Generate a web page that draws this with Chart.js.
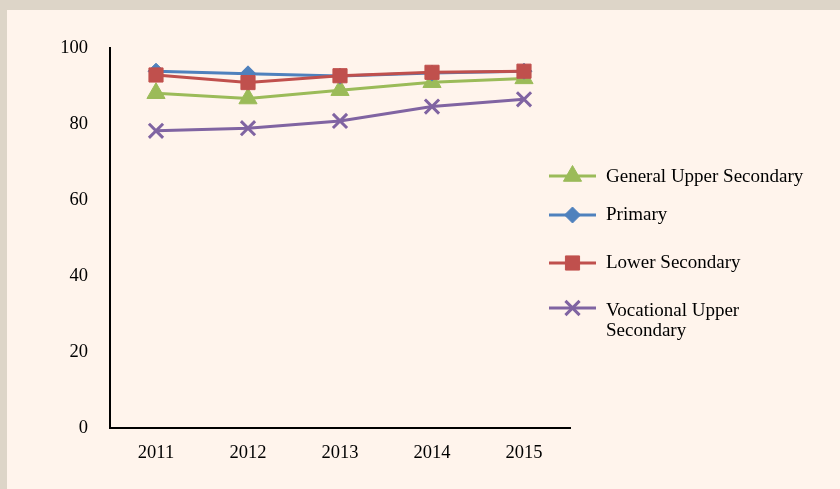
<!DOCTYPE html>
<html>
<head>
<meta charset="utf-8">
<script src="https://cdn.jsdelivr.net/npm/chart.js@4/dist/chart.umd.min.js"></script>
<style>
  html, body { margin: 0; padding: 0; }
  body { width: 840px; height: 489px; background: #ddd5c8; position: relative; overflow: hidden; }
  #chart { position: absolute; left: 7px; top: 10px; background: #fff4ec; }
</style>
</head>
<body>
<canvas id="chart" width="833" height="479"></canvas>
<script>
'use strict';

// data
let years = ['2011', '2012', '2013', '2014', '2015'];
let generalUpper = [88.1, 86.7, 88.9, 91.0, 92.0];
let primary = [93.9, 93.2, 92.6, 93.4, 93.9];
let lowerSecondary = [92.9, 90.9, 92.7, 93.6, 93.9];
let vocationalUpper = [78.2, 78.9, 80.8, 84.6, 86.5];
let yTicks = [0, 20, 40, 60, 80, 100];

let canvasElem = document.getElementById('chart');
let serif = "'Liberation Serif', 'Times New Roman', serif";

// legend drawn by hand so the last label can wrap like the original
let legendPlugin = {
  id: 'sideLegend',
  afterDraw(chart) {
    let ctx = chart.ctx;
    let items = [
      { ds: 0, y: 166, lines: [['General Upper Secondary', 167]] },
      { ds: 1, y: 205, lines: [['Primary', 205]] },
      { ds: 2, y: 253, lines: [['Lower Secondary', 253]] },
      { ds: 3, y: 298, lines: [['Vocational Upper', 301], ['Secondary', 321]] }
    ];
    ctx.save();
    items.forEach(function (it) {
      let d = chart.data.datasets[it.ds];
      ctx.strokeStyle = d.borderColor;
      ctx.lineWidth = 3;
      ctx.beginPath();
      ctx.moveTo(542, it.y);
      ctx.lineTo(589, it.y);
      ctx.stroke();
      ctx.fillStyle = d.pointBackgroundColor;
      ctx.strokeStyle = d.pointBorderColor;
      ctx.lineWidth = d.pointBorderWidth;
      Chart.helpers.drawPoint(ctx, { pointStyle: d.pointStyle, radius: d.pointRadius, borderWidth: d.pointBorderWidth, rotation: 0 }, 565.5, it.y);
      ctx.fillStyle = '#000';
      ctx.font = '19px ' + serif;
      ctx.textBaseline = 'middle';
      ctx.textAlign = 'left';
      it.lines.forEach(function (l) {
        ctx.fillText(l[0], 599, l[1]);
      });
    });
    ctx.restore();
  }
};

function series(label, data, color, style, radius, order) {
  return {
    label: label,
    data: data,
    borderColor: color,
    backgroundColor: color,
    borderWidth: 3,
    pointStyle: style,
    pointRadius: radius,
    pointHoverRadius: radius,
    pointBackgroundColor: color,
    pointBorderColor: color,
    pointBorderWidth: style === 'crossRot' ? 3 : 1,
    tension: 0,
    order: order
  };
}

new Chart(canvasElem, {
  type: 'line',
  data: {
    labels: years,
    datasets: [
      series('General Upper Secondary', generalUpper, '#9bbb59', 'triangle', 10.5, 4),
      series('Primary', primary, '#4f81bd', 'rectRot', 8, 3),
      series('Lower Secondary', lowerSecondary, '#c0504d', 'rect', 10, 2),
      series('Vocational Upper Secondary', vocationalUpper, '#8064a2', 'crossRot', 10, 1)
    ]
  },
  options: {
    responsive: false,
    devicePixelRatio: 1,
    animation: false,
    layout: { padding: { top: 38, right: 270, left: 0, bottom: 0 } },
    plugins: {
      legend: { display: false },
      tooltip: { enabled: false }
    },
    scales: {
      x: {
        offset: true,
        grid: { display: false, drawTicks: false },
        border: { color: '#000', width: 2 },
        ticks: { color: '#000', font: { family: serif, size: 18.5 }, padding: 14, maxRotation: 0 },
        afterFit(scale) { scale.height = 61; }
      },
      y: {
        min: 0,
        max: 100,
        grid: { display: false, drawTicks: false },
        border: { color: '#000', width: 2 },
        afterBuildTicks(scale) { scale.ticks = yTicks.map(function (v) { return { value: v }; }); },
        ticks: { color: '#000', font: { family: serif, size: 18.5 }, padding: 22 },
        afterFit(scale) { scale.width = 103; }
      }
    }
  },
  plugins: [legendPlugin]
});
</script>
</body>
</html>
